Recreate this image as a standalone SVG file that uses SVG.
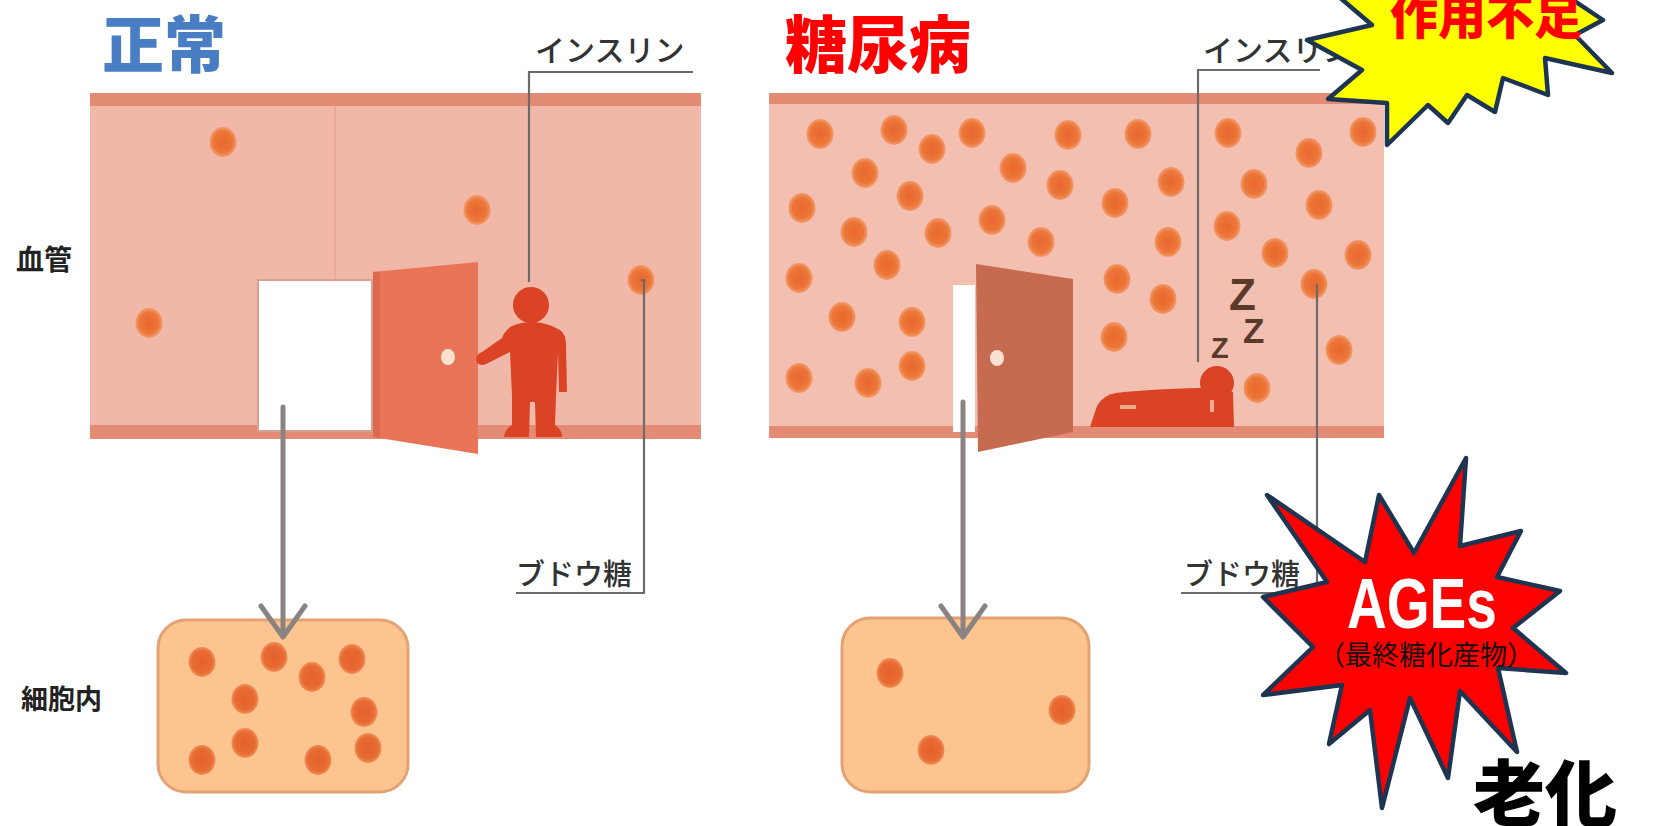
<svg xmlns="http://www.w3.org/2000/svg" width="1653" height="826" viewBox="0 0 1653 826">
  <defs>
    <radialGradient id="dotFill" cx="50%" cy="50%" r="50%">
      <stop offset="0%" stop-color="#e8672e"/>
      <stop offset="70%" stop-color="#ec7638"/>
      <stop offset="100%" stop-color="#f29a6c"/>
    </radialGradient>
    <radialGradient id="cellDotFill" cx="50%" cy="50%" r="50%">
      <stop offset="0%" stop-color="#e4602c"/>
      <stop offset="75%" stop-color="#e86c34"/>
      <stop offset="100%" stop-color="#f09058"/>
    </radialGradient>
    <ellipse id="glucose" cx="0" cy="0" rx="13.5" ry="15" fill="url(#dotFill)"/>
    <ellipse id="cellGlucose" cx="0" cy="0" rx="13.5" ry="15" fill="url(#cellDotFill)"/>
  </defs>
  <style>
    .jp { font-family: "Noto Sans CJK JP", "Noto Sans", sans-serif; }
    .title { font-size: 62px; font-weight: 900; }
    .label { font-size: 28px; font-weight: 700; fill: #222; }
    .callout { font-size: 29px; font-weight: 500; fill: #333; }
    .vessel { fill: #f1b7a8; }
    .vessel-r { fill: #f3bfb1; }
    .band { fill: #e48b76; }
    .cell { fill: #fcc58f; stroke: #e3a174; stroke-width: 3; }
    .leader { fill: none; stroke: #6e6a68; stroke-width: 2.2; }
    .flow { fill: none; stroke: #8a8381; stroke-width: 5; stroke-linecap: round; stroke-linejoin: round; }
    .knob { fill: #fbe2d0; }
    .body { fill: #da4424; }
    .zz { font-family: "Liberation Sans", Arial, sans-serif; font-weight: 700; fill: #5b3a2c; }
    .burst { stroke: #1e3552; stroke-width: 4.5; stroke-linejoin: round; }
  </style>

  <rect width="1653" height="826" fill="#ffffff"/>

  <!-- Section headings and side labels -->
  <g id="title-normal">
    <text class="jp title" x="102" y="68" fill="#4a7ec4">正常</text>
  </g>
  <g id="title-diabetes">
    <text class="jp title" x="785" y="68" fill="#ff0000">糖尿病</text>
  </g>
  <g id="label-vessel">
    <text class="jp label" x="16" y="270">血管</text>
  </g>
  <g id="label-cell">
    <text class="jp label" x="21" y="709" style="font-size:27px">細胞内</text>
  </g>

  <!-- Normal: blood vessel -->
  <g id="vessel-normal">
    <rect class="vessel" x="90" y="93" width="611" height="345"/>
    <rect class="band" x="90" y="93" width="611" height="13"/>
    <rect class="band" x="90" y="425" width="611" height="14"/>
    <line x1="335" y1="106" x2="335" y2="425" stroke="#e7a595" stroke-width="1.5"/>
    <use href="#glucose" x="223" y="142"/>
    <use href="#glucose" x="477" y="210"/>
    <use href="#glucose" x="149" y="323"/>
    <use href="#glucose" x="641" y="280"/>
    <!-- doorway and open door -->
    <rect x="258" y="280" width="114" height="151" fill="#ffffff" stroke="#d9a092" stroke-width="2"/>
    <polygon points="373,272 478,262 478,454 373,437" fill="#ea7458"/>
    <polygon points="373,272 380,271.5 380,438 373,437" fill="#dc6a50"/>
    <ellipse class="knob" cx="448" cy="357" rx="7" ry="8"/>
  </g>

  <!-- Normal: insulin opening the door -->
  <g id="insulin-normal">
    <circle class="body" cx="531" cy="305" r="18"/>
    <path class="body" d="M512 326 Q531 318 552 326 L560 330 Q566 334 566 345 L567 392 L559 392 L558 352 L556 396 L555 425 Q562 430 562 437 L536 437 L535 402 L530 402 L529 437 L504 437 Q505 429 512 425 L512 396 L510 352 L486 364 Q478 367 476 360 Q476 354 482 352 L502 338 Q505 330 512 326 Z"/>
  </g>

  <!-- Normal: cell interior -->
  <g id="cell-normal">
    <rect class="cell" x="158" y="620" width="250" height="172" rx="28" ry="28"/>
    <use href="#cellGlucose" x="202" y="662"/>
    <use href="#cellGlucose" x="274" y="657"/>
    <use href="#cellGlucose" x="312" y="677"/>
    <use href="#cellGlucose" x="352" y="659"/>
    <use href="#cellGlucose" x="245" y="699"/>
    <use href="#cellGlucose" x="364" y="712"/>
    <use href="#cellGlucose" x="245" y="743"/>
    <use href="#cellGlucose" x="202" y="760"/>
    <use href="#cellGlucose" x="318" y="760"/>
    <use href="#cellGlucose" x="368" y="748"/>
  </g>

  <!-- Diabetes: blood vessel crowded with glucose -->
  <g id="vessel-diabetes">
    <rect class="vessel-r" x="769" y="93" width="615" height="345"/>
    <rect class="band" x="769" y="93" width="615" height="11"/>
    <rect class="band" x="769" y="426" width="615" height="12"/>
    <use href="#glucose" x="820" y="134"/>
    <use href="#glucose" x="894" y="130"/>
    <use href="#glucose" x="932" y="149"/>
    <use href="#glucose" x="972" y="133"/>
    <use href="#glucose" x="1068" y="135"/>
    <use href="#glucose" x="1138" y="134"/>
    <use href="#glucose" x="1228" y="133"/>
    <use href="#glucose" x="1363" y="132"/>
    <use href="#glucose" x="1309" y="153"/>
    <use href="#glucose" x="865" y="173"/>
    <use href="#glucose" x="1013" y="168"/>
    <use href="#glucose" x="1060" y="185"/>
    <use href="#glucose" x="1171" y="182"/>
    <use href="#glucose" x="1254" y="184"/>
    <use href="#glucose" x="802" y="208"/>
    <use href="#glucose" x="910" y="196"/>
    <use href="#glucose" x="1115" y="203"/>
    <use href="#glucose" x="1319" y="205"/>
    <use href="#glucose" x="854" y="232"/>
    <use href="#glucose" x="938" y="233"/>
    <use href="#glucose" x="992" y="220"/>
    <use href="#glucose" x="1041" y="242"/>
    <use href="#glucose" x="1168" y="242"/>
    <use href="#glucose" x="1227" y="226"/>
    <use href="#glucose" x="887" y="265"/>
    <use href="#glucose" x="1275" y="253"/>
    <use href="#glucose" x="1358" y="255"/>
    <use href="#glucose" x="799" y="278"/>
    <use href="#glucose" x="1117" y="279"/>
    <use href="#glucose" x="1314" y="284"/>
    <use href="#glucose" x="842" y="317"/>
    <use href="#glucose" x="912" y="322"/>
    <use href="#glucose" x="1163" y="299"/>
    <use href="#glucose" x="1114" y="337"/>
    <use href="#glucose" x="1339" y="350"/>
    <use href="#glucose" x="799" y="378"/>
    <use href="#glucose" x="868" y="383"/>
    <use href="#glucose" x="912" y="366"/>
    <use href="#glucose" x="1257" y="388"/>
    <!-- barely opened door -->
    <rect x="953" y="285" width="22" height="147" fill="#ffffff"/>
    <polygon points="976,264 1073,279 1073,432 978,452" fill="#c76b50"/>
    <ellipse class="knob" cx="997" cy="358" rx="7" ry="8"/>
  </g>

  <!-- Diabetes: insulin asleep -->
  <g id="insulin-diabetes">
    <path class="body" fill="#d83a1e" d="M1090 427 L1097 406 Q1103 395 1116 393 Q1150 389 1200 388 L1233 392 L1234 427 Z"/>
    <circle class="body" cx="1217" cy="383" r="17"/>
    <rect x="1120" y="405" width="16" height="4" fill="#f3a98c"/>
    <rect x="1210" y="400" width="4" height="12" fill="#f3a98c"/>
    <text class="zz" x="1229" y="310" font-size="44">Z</text>
    <text class="zz" x="1243" y="343" font-size="35">Z</text>
    <text class="zz" x="1211" y="358" font-size="29">Z</text>
  </g>

  <!-- Diabetes: cell interior -->
  <g id="cell-diabetes">
    <rect class="cell" x="842" y="618" width="247" height="174" rx="28" ry="28"/>
    <use href="#cellGlucose" x="890" y="673"/>
    <use href="#cellGlucose" x="1062" y="710"/>
    <use href="#cellGlucose" x="931" y="750"/>
  </g>

  <!-- Callout texts -->
  <g id="callout-insulin-normal">
    <text class="jp callout" x="535" y="61" style="font-size:30px">インスリン</text>
  </g>
  <g id="callout-glucose-normal">
    <text class="jp callout" x="516" y="585" fill="#222">ブドウ糖</text>
  </g>
  <g id="callout-insulin-diabetes">
    <text class="jp callout" x="1203" y="61" style="font-size:30px">インスリン</text>
  </g>
  <g id="callout-glucose-diabetes">
    <text class="jp callout" x="1184" y="585" fill="#222">ブドウ糖</text>
  </g>

  <!-- Connectors: leader lines and glucose flow arrows -->
  <g id="connectors">
    <polyline class="leader" points="693,72 529,72 529,282"/>
    <polyline class="leader" points="641,280 644,280 644,593 516,593"/>
    <polyline class="leader" points="1320,70 1198,70 1198,362"/>
    <polyline class="leader" points="1317,284 1317,593 1181,593"/>
    <line class="flow" x1="283" y1="407" x2="283" y2="636"/>
    <polyline class="flow" points="261,606 283,637 305,606"/>
    <line class="flow" x1="963" y1="402" x2="963" y2="636"/>
    <polyline class="flow" points="941,606 963,637 985,606"/>
  </g>

  <!-- Burst: insufficient action -->
  <g id="burst-insufficient">
    <polygon class="burst" fill="#ffff00" points="1331,-10 1558,-10 1603,20 1575,35 1612,73 1545,58 1548,95 1503,78 1495,112 1467,95 1448,123 1428,105 1387,145 1387,103 1328,99 1362,70 1307,40 1372,25"/>
    <text class="jp" x="1390" y="34" font-size="48" font-weight="900" fill="#ff0000">作用不足</text>
  </g>

  <!-- Burst: AGEs -->
  <g id="burst-ages">
    <polygon class="burst" fill="#ff0000" points="1466,458 1460,546 1521,531 1497,577 1560,591 1513,628 1566,673 1498,668 1517,752 1460,691 1448,778 1410,698 1382,808 1370,710 1329,744 1342,685 1263,695 1313,647 1263,597 1327,582 1267,495 1365,562 1379,495 1414,553"/>
    <text x="1347" y="628" font-family="Liberation Sans, Arial, sans-serif" font-size="71" font-weight="700" fill="#ffffff" textLength="150" lengthAdjust="spacingAndGlyphs">AGEs</text>
    <text class="jp" x="1318" y="665" font-size="27" fill="#111111">（最終糖化産物）</text>
  </g>

  <g id="label-aging">
    <text class="jp" x="1473" y="820" font-size="72" font-weight="900" fill="#000000">老化</text>
  </g>
</svg>
